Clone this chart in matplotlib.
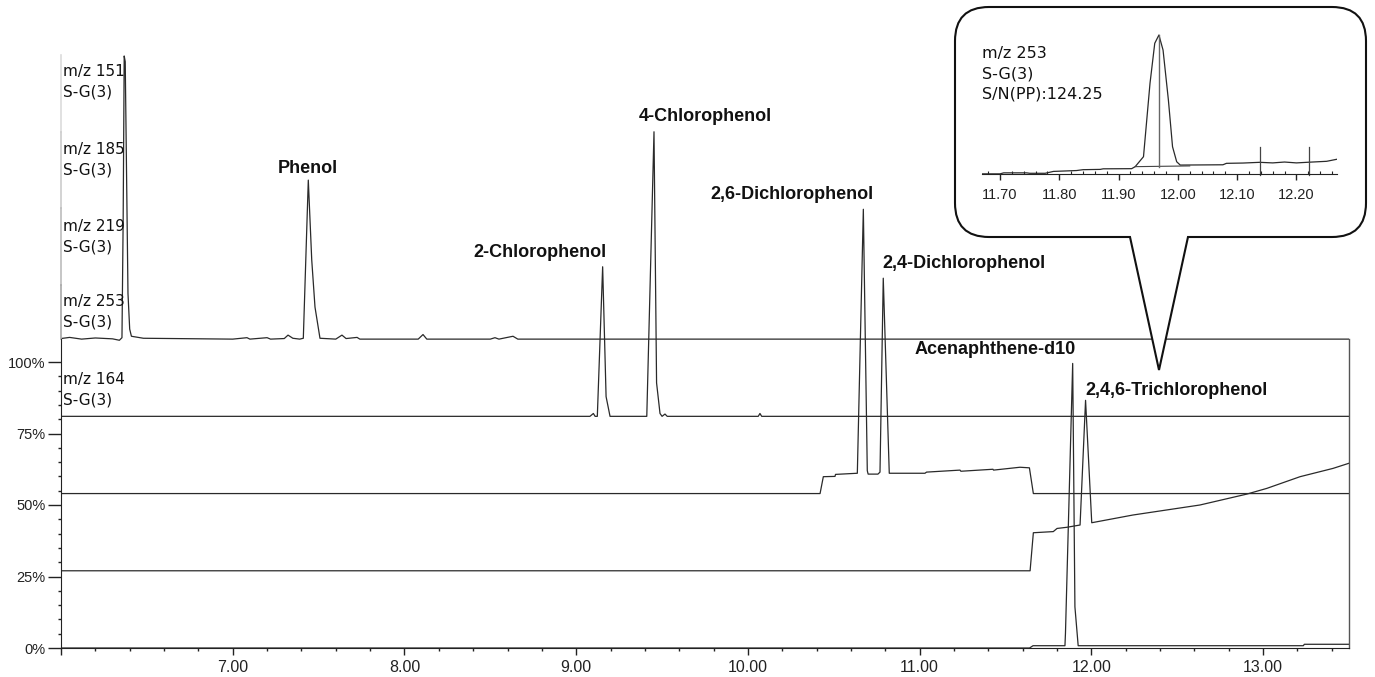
import matplotlib
matplotlib.use('Agg')
import matplotlib.pyplot as plt
import matplotlib.transforms as mtransforms
from matplotlib.path import Path
from matplotlib.patches import PathPatch
from matplotlib.ticker import MultipleLocator, FuncFormatter

# --- stacked ion traces (retention time in min, intensity in % as drawn) ---
t151 = [6.00, 6.05, 6.12, 6.20, 6.30, 6.34, 6.355, 6.362, 6.368, 6.374, 6.39, 6.40, 6.41, 6.48,
        7.00, 7.083, 7.10, 7.20, 7.22, 7.30, 7.322, 7.35, 7.39, 7.411, 7.44, 7.46, 7.479, 7.508,
        7.60, 7.636, 7.66, 7.724, 7.74, 8.08, 8.108, 8.13, 8.50, 8.527, 8.55, 8.632, 8.66, 13.50]
v151 = [108.2, 108.6, 108.0, 108.4, 108.1, 107.6, 108.5, 150.0, 207.0, 205.0, 124.0, 111.5, 109.0, 108.3,
        108.0, 108.5, 108.0, 108.5, 108.0, 108.2, 109.4, 108.3, 108.0, 108.3, 163.6, 135.7, 119.2, 108.3,
        108.0, 109.4, 108.2, 108.6, 108.0, 108.0, 109.6, 108.0, 108.0, 108.5, 108.0, 109.0, 108.0, 108.0]

t185 = [6.00, 9.08, 9.10, 9.11, 9.123, 9.154, 9.174, 9.197, 9.411, 9.453, 9.468, 9.488, 9.50,
        9.517, 9.53, 10.06, 10.07, 10.08, 13.50]
v185 = [81.0, 81.0, 82.0, 81.0, 81.0, 133.3, 87.9, 81.0, 81.0, 180.5, 92.7, 82.0, 81.0,
        81.8, 81.0, 81.0, 82.0, 81.0, 81.0]

t219 = [6.00, 10.42, 10.439, 10.507, 10.51, 10.637, 10.672, 10.695, 10.70, 10.757, 10.769, 10.788,
        10.823, 11.031, 11.04, 11.235, 11.24, 11.427, 11.43, 11.584, 11.639, 11.662, 13.50]
v219 = [54.0, 54.0, 59.9, 60.0, 60.7, 61.1, 153.4, 62.0, 60.8, 60.8, 61.5, 129.3,
        61.1, 61.1, 61.5, 62.2, 61.8, 62.5, 62.2, 63.2, 63.0, 54.0, 54.0]

t253 = [6.00, 11.643, 11.662, 11.778, 11.80, 11.856, 11.934, 11.966, 12.002, 12.242, 12.632,
        12.904, 13.021, 13.215, 13.407, 13.50]
v253 = [27.0, 27.0, 40.3, 40.7, 41.8, 42.2, 43.0, 86.6, 43.8, 46.5, 50.0,
        53.8, 55.8, 59.9, 62.8, 64.6]

t164 = [6.00, 11.64, 11.66, 11.846, 11.849, 11.891, 11.904, 11.923, 13.234, 13.24, 13.50]
v164 = [0.0, 0.0, 0.8, 0.8, 5.2, 99.5, 14.4, 0.8, 0.8, 1.3, 1.3]

trace_t = [t151, t185, t219, t253, t164]
trace_v = [v151, v185, v219, v253, v164]
trace_names = ['m/z 151', 'm/z 185', 'm/z 219', 'm/z 253', 'm/z 164']
trace_label_y = [197.9, 170.6, 143.7, 117.5, 90.2]
panel_bounds = [207.3, 180.4, 153.8, 126.9, 108.0]
panel_grays = ['#dcdcdc', '#cccccc', '#bcbcbc', '#a8a8a8']

# --- peak annotations ---
peak_names = ['Phenol', '2-Chlorophenol', '4-Chlorophenol', '2,6-Dichlorophenol',
              '2,4-Dichlorophenol', 'Acenaphthene-d10', '2,4,6-Trichlorophenol']
peak_lx = [7.438, 8.789, 9.750, 10.254, 11.255, 11.439, 12.493]
peak_ly = [167.5, 138.3, 186.0, 158.4, 134.3, 104.2, 90.2]

# --- zoomed m/z 253 trace in the callout ---
ins_t = [11.669, 11.70, 11.706, 11.745, 11.75, 11.776, 11.79, 11.829, 11.84, 11.869, 11.874, 11.922,
         11.928, 11.942, 11.953, 11.961, 11.968, 11.975, 11.984, 11.991, 11.998, 12.004, 12.076,
         12.082, 12.11, 12.138, 12.16, 12.18, 12.20, 12.222, 12.251, 12.268]
ins_v = [0.3, 0.3, 1.0, 1.0, 0.7, 0.7, 2.0, 2.6, 3.2, 3.4, 3.8, 3.9,
         5.3, 12.2, 63.1, 90.8, 96.5, 86.1, 51.5, 19.1, 8.7, 6.4, 6.6,
         7.6, 7.8, 8.3, 7.9, 8.5, 7.9, 8.4, 9.0, 10.4]
ins_base_t = [11.928, 12.02]
ins_base_v = [5.3, 5.8]
ins_apex = 11.968
ins_noise_t = [12.138, 12.222]
ins_lines = ['m/z 253', 'S-G(3)', 'S/N(PP):124.25']
ins_line_y = [83.4, 69.5, 55.6]
ins_ticks = [11.70, 11.80, 11.90, 12.00, 12.10, 12.20]

W, H = 1375, 677
fig = plt.figure(figsize=(W / 100, H / 100), dpi=100)
fig.patch.set_facecolor('white')

ax = fig.add_axes([61 / W, 1 - 648 / H, (1349 - 61) / W, 648 / H])
ax.set_xlim(6.0, 13.5)
ax.set_ylim(0, 648 / 2.86)

for t, v in zip(trace_t, trace_v):
    ax.plot(t, v, color='#2a2a2a', lw=0.9)

for name, y in zip(trace_names, trace_label_y):
    ax.text(6.012, y, name + '\nS-G(3)', ha='left', va='center', fontsize=11,
            family='DejaVu Sans', color='#111111', linespacing=1.45)

for i, c in enumerate(panel_grays):
    ax.plot([6.0, 6.0], [panel_bounds[i], panel_bounds[i + 1]], color=c, lw=1.2, clip_on=False)

for name, x, y in zip(peak_names, peak_lx, peak_ly):
    ax.text(x, y, name, ha='center', va='center', fontsize=13, fontweight='bold',
            family='Liberation Sans', color='#111111')

for s in ['top']:
    ax.spines[s].set_visible(False)
ax.spines['left'].set_bounds(0, 108)
ax.spines['right'].set_bounds(0, 108)
ax.spines['left'].set_color('#222222')
ax.spines['right'].set_color('#555555')
ax.spines['bottom'].set_color('#222222')
ax.spines['right'].set_linewidth(1.0)

ax.xaxis.set_major_locator(MultipleLocator(1.0))
ax.xaxis.set_minor_locator(MultipleLocator(0.2))
ax.xaxis.set_major_formatter(FuncFormatter(lambda v, _: '' if v < 6.5 else f'{v:.2f}'))
ax.set_yticks([0, 25, 50, 75, 100])
ax.set_yticks(range(0, 101, 5), minor=True)
ax.yaxis.set_major_formatter(FuncFormatter(lambda v, _: f'{v:.0f}%'))
ax.tick_params(axis='x', which='major', length=5, width=1, pad=4, labelsize=11.5, colors='#222222')
ax.tick_params(axis='x', which='minor', length=2.5, width=1, colors='#222222')
ax.tick_params(axis='y', which='major', length=9.5, width=1, pad=1.5, labelsize=10.5, colors='#222222')
ax.tick_params(axis='y', which='minor', length=2.5, width=1, colors='#222222')
for lab in ax.get_xticklabels() + ax.get_yticklabels():
    lab.set_family('Liberation Sans')

# callout balloon drawn in pixel space (origin top-left)
L, R, T, B, r = 955, 1366, 7, 237, 34
verts = [(L + r, T), (R - r, T), (R, T), (R, T + r), (R, B - r), (R, B), (R - r, B),
         (1188, B), (1159, 370), (1130, B), (L + r, B), (L, B), (L, B - r),
         (L, T + r), (L, T), (L + r, T), (L + r, T)]
codes = [Path.MOVETO, Path.LINETO, Path.CURVE3, Path.CURVE3, Path.LINETO, Path.CURVE3, Path.CURVE3,
         Path.LINETO, Path.LINETO, Path.LINETO, Path.LINETO, Path.CURVE3, Path.CURVE3,
         Path.LINETO, Path.CURVE3, Path.CURVE3, Path.CLOSEPOLY]
px = mtransforms.Affine2D().scale(1 / W, -1 / H).translate(0, 1) + fig.transFigure
balloon = PathPatch(Path(verts, codes), facecolor='white', edgecolor='#111111', lw=1.5,
                    transform=px, zorder=2)
fig.add_artist(balloon)

ins = fig.add_axes([981.7 / W, 1 - 174.3 / H, (1336.7 - 981.7) / W, 144.3 / H], zorder=3)
ins.patch.set_visible(False)
ins.set_xlim(11.669, 12.268)
ins.set_ylim(0, 100)
ins.plot(ins_t, ins_v, color='#2a2a2a', lw=0.9)
ins.plot(ins_base_t, ins_base_v, color='#444444', lw=0.8)
ins.plot([ins_apex, ins_apex], [ins_base_v[0], 96.5], color='#666666', lw=1.0)
for x in ins_noise_t:
    ins.plot([x, x], [-0.5, 19.1], color='#444444', lw=0.9, clip_on=False)
for s in ['top', 'left', 'right']:
    ins.spines[s].set_visible(False)
ins.spines['bottom'].set_color('#222222')
ins.set_yticks([])
ins.set_xticks(ins_ticks)
ins.xaxis.set_minor_locator(MultipleLocator(0.02))
ins.xaxis.set_major_formatter(FuncFormatter(lambda v, _: f'{v:.2f}'))
ins.tick_params(axis='x', which='major', length=4, width=1, pad=6, labelsize=10.5, colors='#222222')
ins.tick_params(axis='x', which='minor', direction='in', length=2, width=0.8, colors='#222222')
for lab in ins.get_xticklabels():
    lab.set_family('Liberation Sans')
for txt, y in zip(ins_lines, ins_line_y):
    ins.text(11.670, y, txt, ha='left', va='center', fontsize=11.5, family='DejaVu Sans',
             color='#111111')

fig.savefig('out.png', dpi=100)
